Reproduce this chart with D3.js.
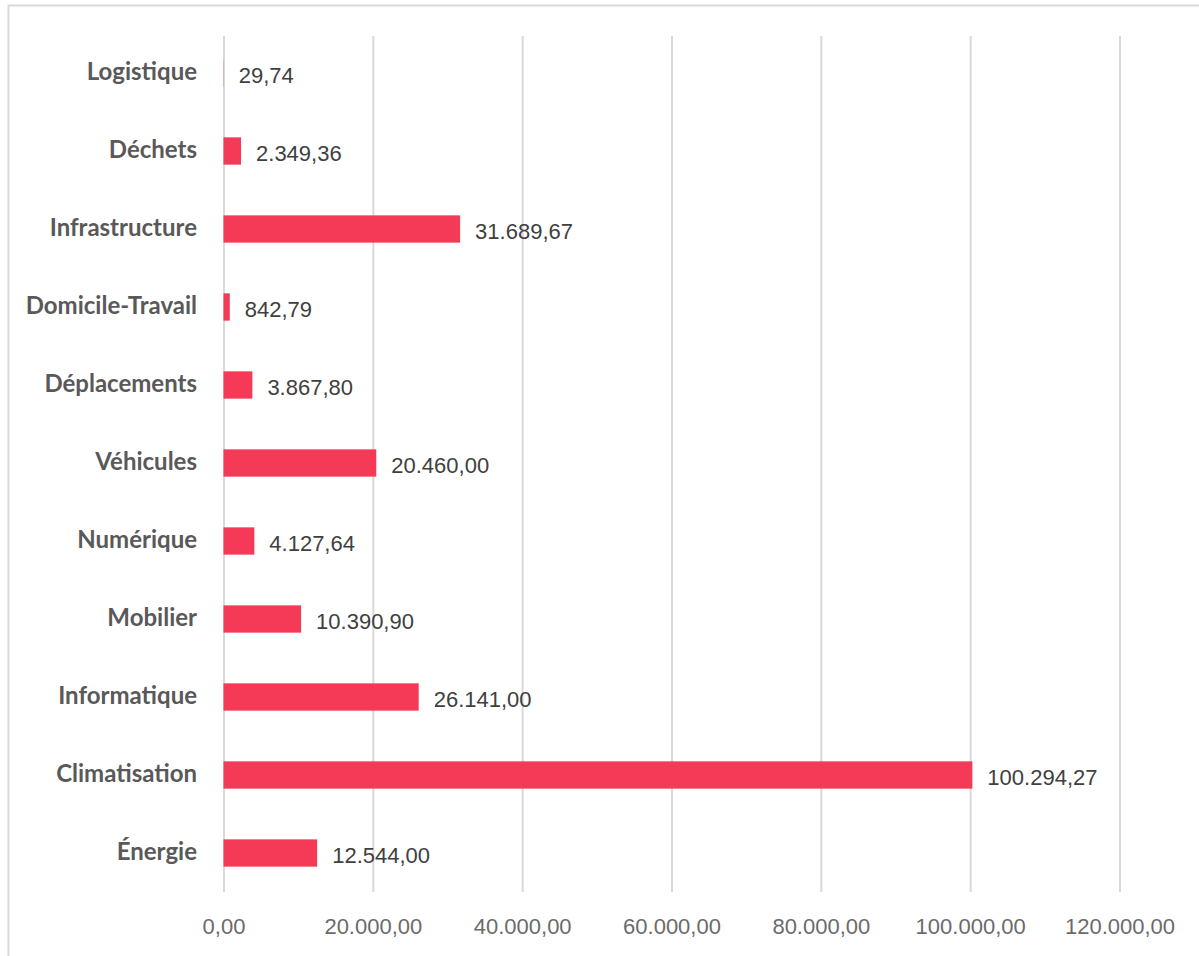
<!DOCTYPE html>
<html lang="fr">
<head>
<meta charset="UTF-8">
<script src="https://cdn.jsdelivr.net/npm/d3@7"></script>
<style>
  body { margin: 0; background: #fff; }
  svg { display: block; }
</style>
</head>
<body>
<script>
  // données (du haut vers le bas)
  var categories = ["Logistique", "Déchets", "Infrastructure", "Domicile-Travail", "Déplacements",
                    "Véhicules", "Numérique", "Mobilier", "Informatique", "Climatisation", "Énergie"]
  var values = [29.74, 2349.36, 31689.67, 842.79, 3867.80, 20460.00, 4127.64, 10390.90, 26141.00, 100294.27, 12544.00]
  var ticks = [0, 20000, 40000, 60000, 80000, 100000, 120000]

  var width = 1199, height = 956
  var svg = d3.select('body').append('svg').attr('width', width).attr('height', height)

  // cadre
  svg.append('rect')
    .attr('x', 8.5).attr('y', 5.5).attr('width', 1200).attr('height', 960)
    .attr('fill', 'none').attr('stroke', '#d9d9d9').attr('stroke-width', 2)

  var fr = d3.formatLocale({ decimal: ',', thousands: '.', grouping: [3], currency: ['', ' €'] })
  var fmt = fr.format(',.2f')

  var x = d3.scaleLinear().domain([0, 120000]).range([223.5, 1119.5])
  var y = d3.scaleBand().domain(categories).range([34, 892]).padding(0)
  var bh = y.bandwidth() * 0.35

  // grille
  var grid = svg.append('g').attr('transform', 'translate(0,36)')
    .call(d3.axisBottom(x).tickValues(ticks).tickSize(856).tickFormat(''))
  grid.select('.domain').remove()
  grid.selectAll('.tick line').attr('stroke', '#d9d9d9').attr('stroke-width', 2)

  // étiquettes de l'axe
  var ax = svg.append('g').attr('transform', 'translate(0,892)')
    .call(d3.axisBottom(x).tickValues(ticks).tickSize(0).tickPadding(0).tickFormat(fmt))
  ax.select('.domain').remove()
  ax.selectAll('text')
    .attr('y', 34).attr('dy', '0.35em')
    .attr('fill', '#6b6b6b')
    .style('font-family', '"Liberation Sans", Arial, sans-serif')
    .style('font-size', '22px')

  var data = categories.map(function(c, i) { return { cat: c, value: values[i] } })

  // barres
  svg.append('g').selectAll('rect').data(data).enter().append('rect')
    .attr('x', x(0))
    .attr('y', function(d) { return y(d.cat) + (y.bandwidth() - bh) / 2 })
    .attr('width', function(d) { return Math.max(0, x(d.value) - x(0)) })
    .attr('height', bh)
    .attr('fill', '#f43a56')

  // valeurs
  svg.append('g').selectAll('text').data(data).enter().append('text')
    .attr('x', function(d) { return x(d.value) + 15 })
    .attr('y', function(d) { return y(d.cat) + y.bandwidth() / 2 + 2 })
    .attr('dy', '0.35em')
    .attr('fill', '#404040')
    .style('font-family', '"Liberation Sans", Arial, sans-serif')
    .style('font-size', '22px')
    .text(function(d) { return fmt(d.value) })

  // catégories
  svg.append('g').selectAll('text').data(categories).enter().append('text')
    .attr('x', 197)
    .attr('y', function(d) { return y(d) + y.bandwidth() / 2 - 1 })
    .attr('dy', '0.35em')
    .attr('text-anchor', 'end')
    .attr('fill', '#595959')
    .style('font-family', 'Lato, sans-serif')
    .style('font-weight', 700)
    .style('font-size', '24px')
    .text(function(d) { return d })
</script>
</body>
</html>
